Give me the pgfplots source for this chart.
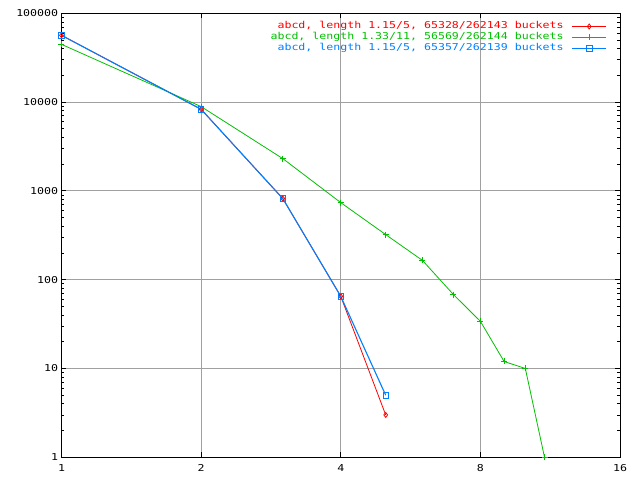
\documentclass[border=0pt]{standalone}
\usepackage{fontspec}
\setmainfont[FakeStretch=1.22]{DejaVu Sans Mono}
\usepackage{pgfplots}
\pgfplotsset{compat=1.18}
\definecolor{gred}{RGB}{255,0,0}
\definecolor{ggreen}{RGB}{0,192,0}
\definecolor{gblue}{RGB}{0,128,255}
\definecolor{ggrid}{RGB}{160,160,160}
\begin{document}
\fontsize{9.5bp}{10.5bp}\selectfont
\begin{tikzpicture}
\begin{axis}[
  scale only axis,
  width=558.5bp, height=444bp,
  xmode=log, ymode=log, log basis x=2,
  xmin=1, xmax=16, ymin=1, ymax=100000,
  xtick={1,2,4,8,16}, xticklabels={1,2,4,8,16},
  ytick={1,10,100,1000,10000,100000},
  yticklabels={1,10,100,1000,10000,100000},
  xminorticks=false,
  tick align=inside,
  major tick length=5bp, minor tick length=3bp,
  every tick/.style={black, line width=0.8bp},
  grid=major,
  major grid style={ggrid, line width=0.8bp},
  axis line style={black, line width=1bp},
  tick label style={font=\fontsize{9.5bp}{10.5bp}\selectfont},
  xticklabel style={yshift=-4bp},
  /pgf/number format/assume math mode=true,
  legend style={draw=none, fill=none, at={(1,1)}, anchor=north east,
    xshift=-13bp, yshift=-7.5bp, row sep=0pt, inner sep=0pt,
    font=\fontsize{9.5bp}{10.5bp}\selectfont,
    nodes={inner sep=0pt, text height=8bp, text depth=3bp}},
  legend plot pos=right,
  legend cell align=right,
  legend image code/.code={\path (0bp,0bp); \draw[mark repeat=2,mark phase=2,line width=1.2bp] plot coordinates {(8bp,0bp) (25bp,0bp) (42bp,0bp)};},
]
\addplot[gred, line width=0.8bp, mark=diamond, mark size=2.5bp, mark options={solid, line width=0.8bp}, legend image post style={draw=gred}] coordinates {
  (1,56500) (2,8300) (3,820) (4,65) (5,3)};
\addlegendentry[text=gred]{abcd, length 1.15/5, 65328/262143 buckets}
\addplot[ggreen, line width=0.8bp, mark=+, mark size=3bp, mark options={solid, line width=0.8bp}, legend image post style={draw=ggreen}] coordinates {
  (1,44700) (2,8900) (3,2310) (4,738) (5,322) (6,165) (7,68) (8,34) (9,12) (10,10) (11,1)};
\addlegendentry[text=ggreen]{abcd, length 1.33/11, 56569/262144 buckets}
\addplot[gblue, line width=1.1bp, mark=square, mark size=2.7bp, mark options={solid, line width=0.8bp}, legend image post style={draw=gblue}] coordinates {
  (1,56500) (2,8300) (3,820) (4,65) (5,5)};
\addlegendentry[text=gblue]{abcd, length 1.15/5, 65357/262139 buckets}
\end{axis}
\path[use as bounding box] ([shift={(-61.5bp,-22.7bp)}]current axis.south west) rectangle ([shift={(20bp,13.3bp)}]current axis.north east);
\end{tikzpicture}
\end{document}
